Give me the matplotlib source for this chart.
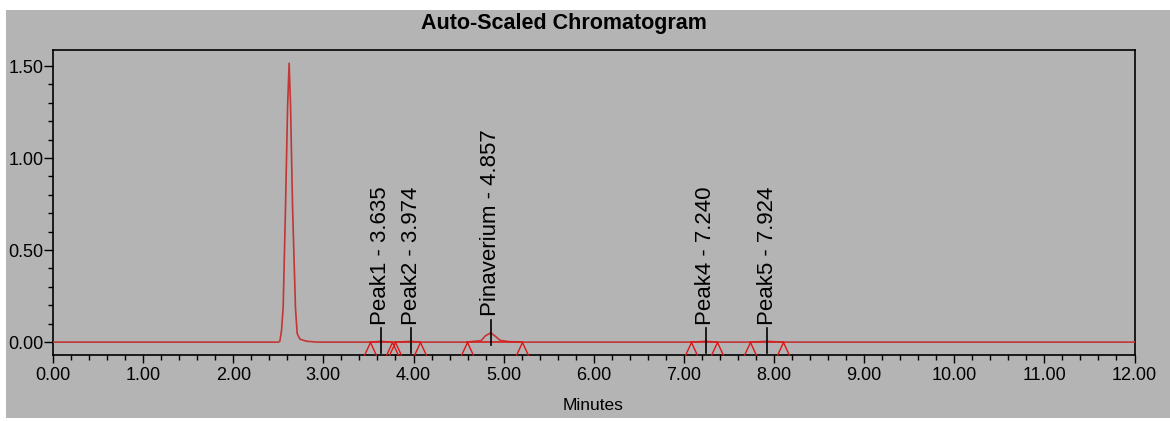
import numpy as np
import matplotlib.pyplot as plt
import matplotlib.patches as mpatches

plt.rcParams['font.family'] = ['Liberation Sans', 'DejaVu Sans']

# trace (minutes, AU)
t = [0.00, 2.50, 2.517, 2.536, 2.554, 2.58, 2.603, 2.62, 2.636, 2.658, 2.69, 2.709, 2.74, 2.81, 2.93,
     3.52, 3.635, 3.76, 3.80, 3.974, 4.07,
     4.59, 4.75, 4.80, 4.857, 4.90, 4.96, 5.05, 5.20,
     7.08, 7.24, 7.37, 7.73, 7.924, 8.10, 12.00]
au = [0.0, 0.0, 0.005, 0.065, 0.19, 0.735, 1.28, 1.515, 1.28, 0.735, 0.19, 0.047, 0.016, 0.005, 0.0,
      0.0, 0.004, 0.0, 0.0, 0.004, 0.0,
      0.0, 0.008, 0.035, 0.05, 0.035, 0.01, 0.003, 0.0,
      0.0, 0.004, 0.0, 0.0, 0.004, 0.0, 0.0]

# integrated peaks
peak_names = ['Peak1', 'Peak2', 'Pinaverium', 'Peak4', 'Peak5']
peak_rt = [3.635, 3.974, 4.857, 7.240, 7.924]
peak_apex = [0.004, 0.004, 0.05, 0.004, 0.004]
peak_start = [3.52, 3.80, 4.59, 7.08, 7.73]
peak_end = [3.76, 4.07, 5.20, 7.37, 8.10]

xticks = np.arange(0, 12.01, 1.0)
yticks = [0.0, 0.5, 1.0, 1.5]

W, H = 1170, 421
fig = plt.figure(figsize=(W / 100, H / 100), dpi=100, facecolor='white')
bg = '#b4b4b4'
fig.patches.append(mpatches.Rectangle((6 / W, 3 / H), 1 - 6 / W, (418 - 10) / H,
                                      transform=fig.transFigure, facecolor=bg,
                                      edgecolor='none', zorder=-5))

ax = fig.add_axes([53 / W, 1 - 355 / H, (1134.5 - 53) / W, (355 - 50) / H])
ax.set_facecolor(bg)

ax.plot(t, au, color='#c43535', lw=1.2, zorder=3)

# baseline segments + start/end tick marks
tent = [(-6, -13), (0, 0), (6, -13)]
for s, e in zip(peak_start, peak_end):
    ax.plot([s, e], [0, 0], color='#d42020', lw=1.2, zorder=3)
ax.plot(peak_start + peak_end, [0] * (len(peak_start) * 2), ls='none', marker=tent,
        markersize=19, markerfacecolor='none', markeredgecolor='#e01515',
        markeredgewidth=1.0, zorder=4)

for name, rt, h in zip(peak_names, peak_rt, peak_apex):
    ax.plot([rt, rt], [h - 0.065, h + 0.071], color='black', lw=1.2, zorder=5)
    ax.text(rt, h + 0.09, f'{name} - {rt:.3f}', rotation=90, ha='center', va='bottom',
            fontsize=16, color='black')

ax.set_xlim(0, 12)
ax.set_ylim(-0.07, 1.587)
ax.set_xticks(xticks)
ax.set_xticklabels([f'{v:.2f}' for v in xticks])
ax.set_xticks(np.arange(0, 12.01, 0.2), minor=True)
ax.set_yticks(yticks)
ax.set_yticklabels([f'{v:.2f}' for v in yticks])
ax.set_yticks(np.arange(0, 1.51, 0.1), minor=True)
ax.tick_params(axis='x', which='major', length=6, width=1, labelsize=13, pad=3)
ax.tick_params(axis='x', which='minor', length=3.6, width=1)
ax.tick_params(axis='y', which='major', length=6.5, width=1, labelsize=13, pad=0.5)
ax.tick_params(axis='y', which='minor', length=3.6, width=1)
for sp in ax.spines.values():
    sp.set_linewidth(1.2)

fig.text(564 / W, 1 - 23 / H, 'Auto-Scaled Chromatogram', ha='center', va='center',
         fontsize=15.5, fontweight='bold')
fig.text(593 / W, 1 - 405 / H, 'Minutes', ha='center', va='center', fontsize=12.5)

fig.savefig('out.png', dpi=100, facecolor=fig.get_facecolor())
